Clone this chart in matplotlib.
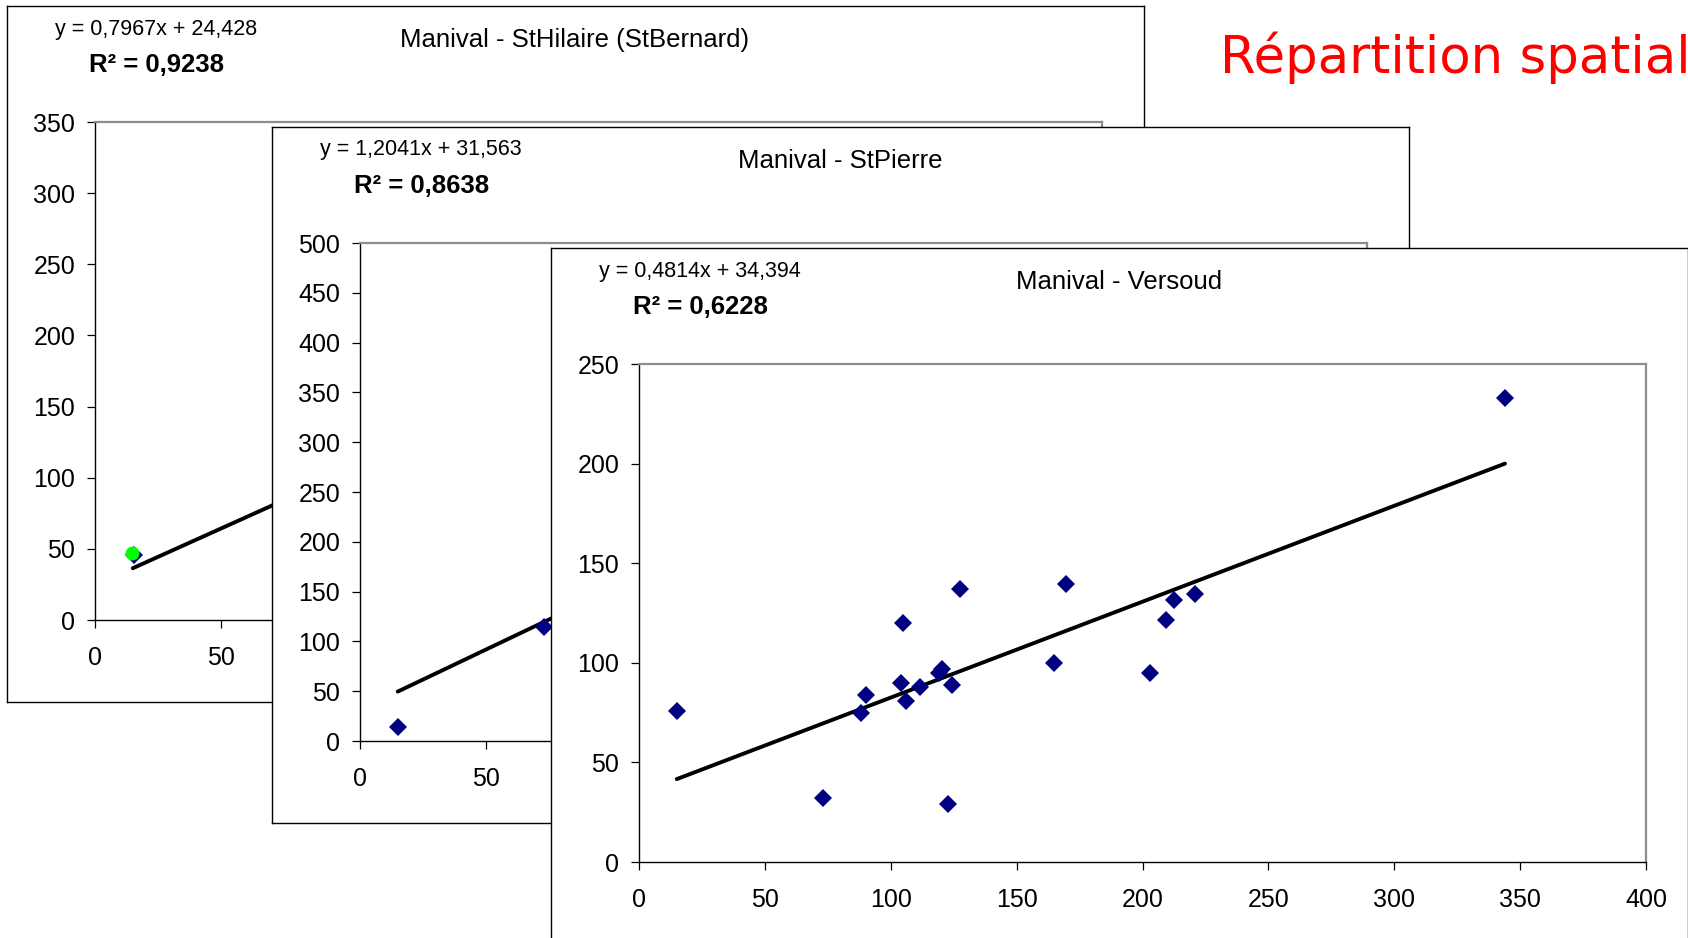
import matplotlib
matplotlib.use("Agg")
import matplotlib.pyplot as plt
import numpy as np

# ---------------- data ----------------
# Manival values (x axis shared by the three regressions)
manival_x = [15, 73, 88, 90, 104, 105, 106, 111.5, 119, 120.5, 122.7, 124.3,
             127.5, 165, 169.5, 203, 209.2, 212.5, 221, 344]
# Versoud values (fully visible chart)
versoud_y = [76, 32, 75, 84, 90, 120, 81, 88, 95, 97, 29, 89,
             137, 100, 139.5, 95, 121.3, 131.3, 134.3, 233]
# StPierre: only the visible points (others hidden behind the front chart)
stpierre_x = [15, 73]
stpierre_y = [14, 114]
# StHilaire: only the visible points
sthilaire_x = [15.3]
sthilaire_y = [46]
sthilaire_green_x = [14.6]
sthilaire_green_y = [47]
sthilaire_magenta_x = [73]
sthilaire_magenta_y = [84]

titles = ["Manival - StHilaire (StBernard)", "Manival - StPierre", "Manival - Versoud"]
equations = ["y = 0,7967x + 24,428", "y = 1,2041x + 31,563", "y = 0,4814x + 34,394"]
r2_labels = ["R² = 0,9238", "R² = 0,8638", "R² = 0,6228"]
slopes = [0.7967, 1.2041, 0.4814]
intercepts = [24.428, 31.563, 34.394]
y_max = [350, 500, 250]
x_max = 400
big_title = "Répartition spatial"

# ---------------- layout (pixels) ----------------
W, H = 1688, 938
FW, FH = 1137, 696          # frame size
frames = [(7, 6), (272, 127), (551, 248)]
AX_L, AX_T, AX_W, AX_H = 88, 116, 1007, 498
# largest x tick label left visible (the others are covered by the next chart)
visible_xmax = [50, 50, 400]

NAVY = "#000080"
FONT = ["Liberation Sans", "DejaVu Sans"]

plt.rcParams["font.family"] = FONT

fig = plt.figure(figsize=(W / 100, H / 100), dpi=100)
fig.patch.set_facecolor("white")


def rect(x, y, w, h):
    return [x / W, 1 - (y + h) / H, w / W, h / H]


series_pts = [
    [(sthilaire_x, sthilaire_y, "D", NAVY, 9.5),
     (sthilaire_green_x, sthilaire_green_y, "o", "#00FF00", 10),
     (sthilaire_magenta_x, sthilaire_magenta_y, "s", "#FF00FF", 8.5)],
    [(stpierre_x, stpierre_y, "D", NAVY, 9.5)],
    [(manival_x, versoud_y, "D", NAVY, 9.5)],
]

xfit = np.array([min(manival_x), max(manival_x)])

for i, (L, T) in enumerate(frames):
    # frame
    fa = fig.add_axes(rect(L, T, FW, FH))
    fa.set_zorder(2 * i + 1)
    fa.set_facecolor("white")
    fa.set_xticks([])
    fa.set_yticks([])
    for s in fa.spines.values():
        s.set_color("black")
        s.set_linewidth(1.0)
    fa.set_xlim(0, FW)
    fa.set_ylim(FH, 0)
    fa.text(48, 23, equations[i], fontsize=15.5, ha="left", va="center")
    fa.text(82, 59, r2_labels[i], fontsize=18.5, fontweight="bold", ha="left", va="center")
    fa.text(568, 34, titles[i], fontsize=18.5, ha="center", va="center")

    # data axes
    ax = fig.add_axes(rect(L + AX_L, T + AX_T, AX_W, AX_H))
    ax.set_zorder(2 * i + 2)
    ax.patch.set_alpha(0)
    ax.set_xlim(0, x_max)
    ax.set_ylim(0, y_max[i])
    xt = np.arange(0, x_max + 1, 50)
    ax.set_xticks(xt)
    ax.set_xticklabels([str(v) if v <= visible_xmax[i] else "" for v in xt])
    ax.set_yticks(np.arange(0, y_max[i] + 1, 50))
    ax.tick_params(axis="both", direction="out", length=5.8, width=0.9,
                   labelsize=18, color="black")
    ax.tick_params(axis="x", pad=13)
    ax.tick_params(axis="y", pad=8.5)
    ax.spines["left"].set_color("black")
    ax.spines["bottom"].set_color("black")
    ax.spines["left"].set_linewidth(1.0)
    ax.spines["bottom"].set_linewidth(1.0)
    for s in ("top", "right"):
        ax.spines[s].set_color("#8c8c8c")
        ax.spines[s].set_linewidth(1.6)

    ax.plot(xfit, slopes[i] * xfit + intercepts[i], color="black", lw=2.8,
            solid_capstyle="round", zorder=2)
    for xs, ys, mk, col, ms in series_pts[i]:
        ax.plot(xs, ys, linestyle="none", marker=mk, color=col, ms=ms,
                markeredgewidth=0, zorder=3)

fig.text(1220 / W, 1 - 58 / H, big_title, color="#FF0000", fontsize=37,
         family=["DejaVu Sans"], ha="left", va="center", zorder=20)

fig.savefig("out.png", dpi=100, facecolor="white")
